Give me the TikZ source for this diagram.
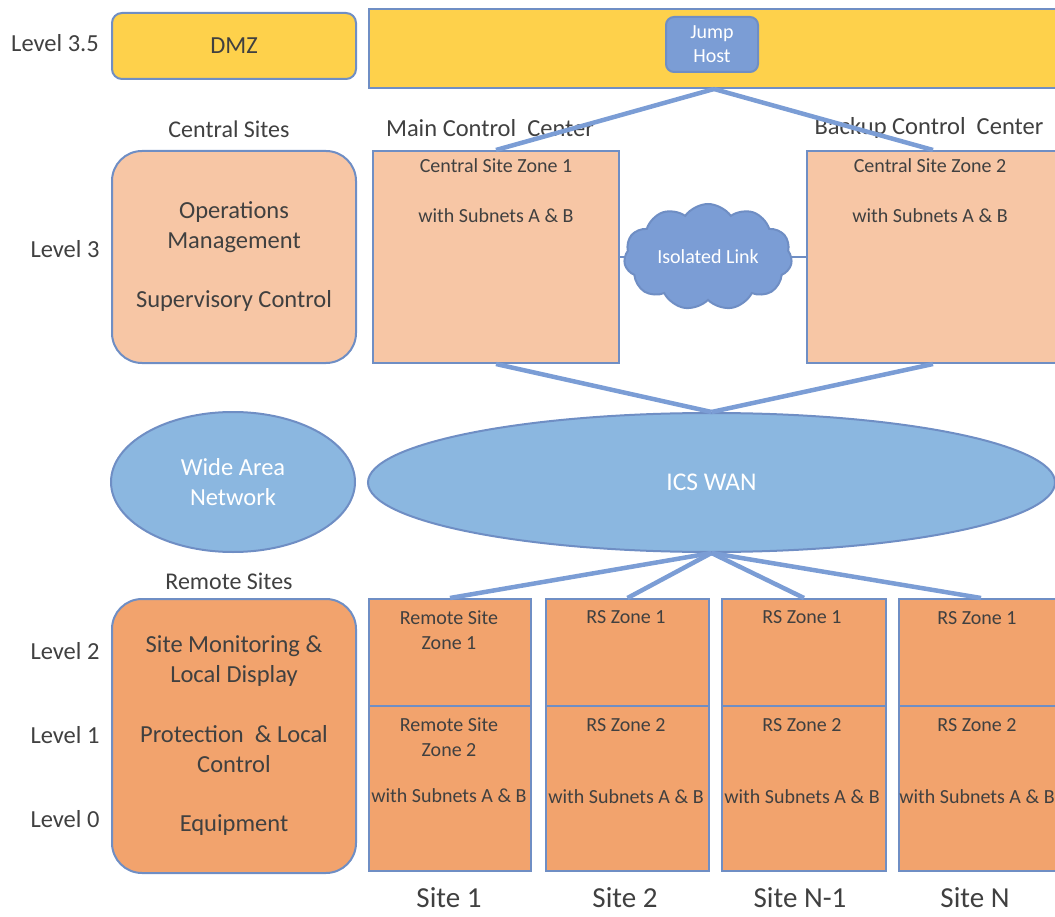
\documentclass[tikz,border=0pt]{standalone}
\usepackage{fontspec}
\setmainfont{Carlito}
\usetikzlibrary{positioning,shapes.geometric,shapes.symbols}
\definecolor{dmzyellow}{RGB}{254,209,75}
\definecolor{edgeblue}{RGB}{111,142,196}
\definecolor{linkblue}{RGB}{123,157,213}
\definecolor{peach}{RGB}{247,198,165}
\definecolor{wanblue}{RGB}{139,183,224}
\definecolor{siteorange}{RGB}{242,163,109}
\definecolor{textgrey}{RGB}{64,64,64}

\begin{document}
\begin{tikzpicture}[
        x=1pt, y=-1pt,
        zone/.style={
            rectangle,
            draw=edgeblue,
            line width=2pt,
            anchor=north west,
            inner sep=0pt
        },
        tier/.style={
            zone,
            rounded corners=30pt,
            minimum width=244pt
        },
        label/.style={text=textgrey, font=\fontsize{24.5}{30}\selectfont, align=center},
        zonetext/.style={text=textgrey, font=\fontsize{20}{25}\selectfont, align=center},
        whitetext/.style={text=white, align=center},
        sitename/.style={label, font=\fontsize{29}{33}\selectfont, anchor=base, inner sep=0pt},
        link/.style={draw=linkblue, line width=4.5pt},
        thinlink/.style={draw=edgeblue, line width=2pt}
    ]
        \useasboundingbox (0,0) rectangle (1055,917);
        \clip (0,0) rectangle (1055,917);

        % Level labels
        \node[label] (l35) at (55,43) {Level 3.5};
        \node[label] (l3) at (65,249) {Level 3};
        \node[label] (l2) at (65,651) {Level 2};
        \node[label] (l1) at (65,735) {Level 1};
        \node[label] (l0) at (65,819) {Level 0};

        % Left column
        \node[tier, fill=dmzyellow, minimum height=66pt, rounded corners=10pt] (dmz) at (111,12) {};
        \node[label] at (dmz.center) {DMZ};
        \node[label, font=\fontsize{24}{28}\selectfont] (central) at (229,129) {Central Sites};
        \node[tier, fill=peach, minimum height=212pt] (ops) at (111,150) {};
        \node[label] at (ops.center) {Operations\\Management\\[29pt]Supervisory Control};
        \node[ellipse, draw=edgeblue, line width=2pt, fill=wanblue, minimum width=244pt, minimum height=140pt] (wan) at (233,482) {};
        \node[label, whitetext] at (wan.center) {Wide Area\\Network};
        \node[label, font=\fontsize{24}{28}\selectfont] (remote) at (229,581) {Remote Sites};
        \node[tier, fill=siteorange, minimum height=274pt] (field) at (111,598) {};
        \node[label] at (field.center) {Site Monitoring \&\\Local Display\\[30pt]Protection~ \& Local\\Control\\[29pt]Equipment};

        % DMZ bar and jump host
        \node[zone, fill=dmzyellow, minimum width=690pt, minimum height=79pt] (dmzbar) at (368,8) {};
        \node[zone, anchor=center, fill=linkblue, rounded corners=8pt, minimum width=92pt, minimum height=55pt] (jump) at (712,44.5) {};
        \node[whitetext, font=\fontsize{20}{24}\selectfont] at (jump.center) {Jump\\Host};

        % Control centers
        \node[label] (mcc) at (490,128) {Main Control~ Center};
        \node[label] (bcc) at (929,128) {Backup Control~ Center};
        \node[zone, fill=peach, minimum width=246pt, minimum height=212pt] (csz1) at (372,150) {};
        \node[zonetext, below=5pt of csz1.north] {Central Site Zone 1\\[25pt]with Subnets A \& B};
        \node[zone, fill=peach, minimum width=252pt, minimum height=212pt] (csz2) at (806,150) {};
        \node[zonetext, below=5pt of csz2.north, xshift=-3pt] {Central Site Zone 2\\[25pt]with Subnets A \& B};
        \node[cloud, cloud puffs=11, cloud puff arc=110, aspect=1.6, draw=edgeblue, line width=2pt, fill=linkblue, minimum width=168pt, minimum height=106pt, inner sep=0pt] (iso) at (708,257) {};
        \node[whitetext, font=\fontsize{20}{24}\selectfont] at (iso.center) {Isolated Link};

        % ICS WAN
        \node[ellipse, draw=edgeblue, line width=2pt, fill=wanblue, minimum width=687pt, minimum height=139pt] (icswan) at (711.5,482.5) {};
        \node[whitetext, font=\fontsize{25.5}{30}\selectfont] at (icswan.center) {ICS WAN};

        % Remote sites
        \node[zone, fill=siteorange, minimum width=162pt, minimum height=107pt] (rs1a) at (368,598) {};
        \node[zone, fill=siteorange, minimum width=162pt, minimum height=165pt] (rs1b) at (368,705) {};
        \node[zone, fill=siteorange, minimum width=163pt, minimum height=107pt] (rs2a) at (545,598) {};
        \node[zone, fill=siteorange, minimum width=163pt, minimum height=165pt] (rs2b) at (545,705) {};
        \node[zone, fill=siteorange, minimum width=164pt, minimum height=107pt] (rs3a) at (721,598) {};
        \node[zone, fill=siteorange, minimum width=164pt, minimum height=165pt] (rs3b) at (721,705) {};
        \node[zone, fill=siteorange, minimum width=164pt, minimum height=107pt] (rs4a) at (898,598) {};
        \node[zone, fill=siteorange, minimum width=164pt, minimum height=165pt] (rs4b) at (898,705) {};

        \node[zonetext] at (449,630) {Remote Site\\Zone 1};
        \node[zonetext] at (449,760) {Remote Site\\Zone 2\\[21pt]with Subnets A \& B};
        \node[zonetext] at (626,617) {RS Zone 1};
        \node[zonetext] at (626,761) {RS Zone 2\\[47pt]with Subnets A \& B};
        \node[zonetext] at (802,617) {RS Zone 1};
        \node[zonetext] at (802,761) {RS Zone 2\\[47pt]with Subnets A \& B};
        \node[zonetext] at (977,618) {RS Zone 1};
        \node[zonetext] at (977,761) {RS Zone 2\\[47pt]with Subnets A \& B};

        \node[sitename] (s1) at (449,907) {Site 1};
        \node[sitename] (s2) at (625,907) {Site 2};
        \node[sitename] (s3) at (800,907) {Site N-1};
        \node[sitename] (s4) at (975,907) {Site N};

        % Links
        \draw[link] (dmzbar.south) -- (csz1.north);
        \draw[link] (dmzbar.south) -- (csz2.north);
        \draw[thinlink] (csz1.east |- iso.west) -- (iso.west);
        \draw[thinlink] (iso.east) -- (csz2.west |- iso.east);
        \draw[link] (csz1.south) -- (icswan.north);
        \draw[link] (csz2.south) -- (icswan.north);
        \draw[link] (icswan.south) -- (rs1a.north);
        \draw[link] (icswan.south) -- (rs2a.north);
        \draw[link] (icswan.south) -- (rs3a.north);
        \draw[link] (icswan.south) -- (rs4a.north);

    \end{tikzpicture}
\end{document}
